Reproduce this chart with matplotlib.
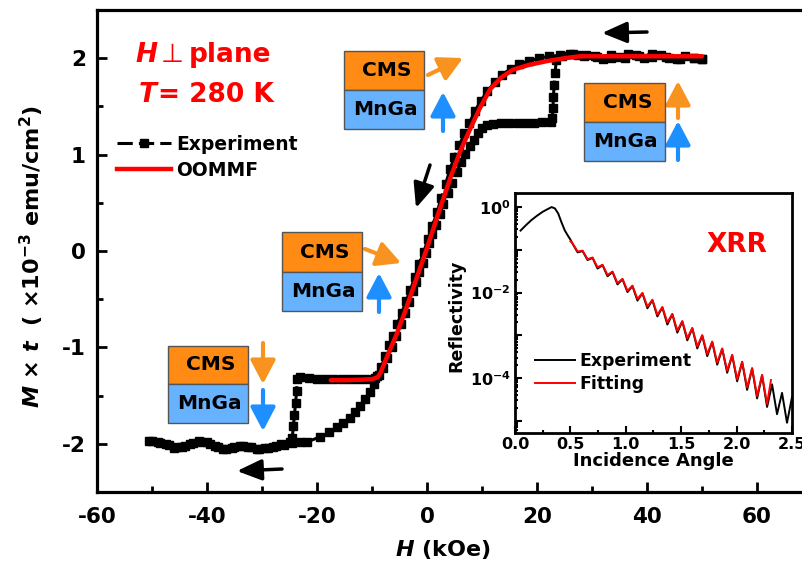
import matplotlib
matplotlib.use('Agg')
import matplotlib.pyplot as plt
from matplotlib.patches import Rectangle
from matplotlib.lines import Line2D
from matplotlib.ticker import MultipleLocator, FixedLocator, LogLocator, NullFormatter
import numpy as np

plt.rcParams['font.family'] = ['DejaVu Sans']
plt.rcParams['font.weight'] = 'bold'
plt.rcParams['axes.unicode_minus'] = False
plt.rcParams['mathtext.fontset'] = 'custom'
plt.rcParams['mathtext.rm'] = 'DejaVu Sans:bold'
plt.rcParams['mathtext.it'] = 'DejaVu Sans:italic:bold'
plt.rcParams['mathtext.bf'] = 'DejaVu Sans:bold'

# ---------------- data: hysteresis (experiment) ----------------
H_desc = [50, 48.5, 47, 45.5, 44, 42.5, 41, 39.5, 38, 36.5, 35, 33.5, 32, 30.5, 29, 27.5, 26, 24.5, 23.5,
          23.3, 23.1, 23.0, 22.9, 22.8,
          22.5, 21, 19.5, 18, 16.5, 15, 13.5, 12, 11, 10, 9.2, 8.5,
          7.8, 7.0, 6.2, 5.4, 4.6, 3.8, 3.0, 2.3, 1.6, 1.0, 0.4, -0.2, -0.8, -1.4, -2.0, -2.6, -3.3, -4.0,
          -4.8, -5.6, -6.4, -7.2, -8.0, -8.8,
          -9.5, -11, -12.5, -14, -15.5, -17, -18.5, -20, -21.5, -23, -23.6,
          -23.7, -23.9, -24.1, -24.3, -24.5,
          -25, -26.5, -28, -29.5, -31, -32.5, -34, -35.5, -37, -38.5, -40, -41.5, -43, -44.5, -46, -47.5, -49, -50.5]
M_desc = [1.99, 2.00, 2.02, 1.99, 2.00, 2.03, 2.01, 2.00, 2.03, 2.04, 2.01, 2.00, 1.99, 2.02, 2.03, 2.03, 2.04, 2.02, 1.98,
          1.85, 1.72, 1.60, 1.48, 1.38,
          1.34, 1.34, 1.33, 1.33, 1.33, 1.33, 1.33, 1.32, 1.31, 1.28, 1.22, 1.15,
          1.09, 1.01, 0.92, 0.82, 0.71, 0.60, 0.49, 0.38, 0.27, 0.18, 0.08, -0.02, -0.12, -0.22, -0.32, -0.42, -0.53, -0.64,
          -0.76, -0.88, -1.00, -1.11, -1.21, -1.29,
          -1.32, -1.33, -1.33, -1.33, -1.33, -1.33, -1.33, -1.33, -1.32, -1.31, -1.33,
          -1.45, -1.58, -1.70, -1.82, -1.94,
          -1.98, -2.00, -2.03, -2.04, -2.05, -2.03, -2.02, -2.04, -2.05, -2.02, -1.98, -1.97, -2.00, -2.03, -2.04, -2.00, -1.98, -1.97]
H_asc = [-50, -48.5, -47, -45.5, -44, -42.5, -41, -39.5, -38, -36.5, -35, -33.5, -32, -30.5, -29, -27.5, -26, -24.5, -23,
         -21.8, -19.5, -17.8, -16.4, -15.2, -14, -13, -12.1, -11.2, -10.4, -9.7, -9.0, -8.3, -7.6, -6.9, -6.2, -5.4,
         -4.6, -3.8, -3.0, -2.2, -1.4, -0.6, 0.2, 1.0, 1.8, 2.6, 3.4, 4.2, 5.0, 5.9, 6.8, 7.7, 8.7, 9.8, 11, 12.3,
         13.7, 15.2, 16.8, 18.5, 20.3, 22.2, 24.2, 26.5, 28.5, 31, 33.5, 36, 38.5, 41, 43.5, 46, 48.5, 50]
M_asc = [-1.97, -1.99, -2.01, -2.03, -2.02, -1.99, -1.98, -2.00, -2.03, -2.05, -2.03, -2.02, -2.03, -2.05, -2.04, -2.02, -2.01, -1.99, -1.98,
         -1.98, -1.93, -1.88, -1.83, -1.78, -1.73, -1.67, -1.61, -1.54, -1.46, -1.38, -1.30, -1.20, -1.09, -0.98, -0.88, -0.76,
         -0.64, -0.52, -0.40, -0.27, -0.14, -0.01, 0.12, 0.26, 0.40, 0.55, 0.70, 0.85, 0.98, 1.10, 1.22, 1.33, 1.45, 1.56, 1.66, 1.75,
         1.83, 1.89, 1.94, 1.97, 2.00, 2.02, 2.03, 2.04, 2.02, 2.01, 2.03, 2.00, 2.02, 2.04, 2.01, 1.99, 2.00, 1.99]

# ---------------- data: OOMMF simulation ----------------
H_sim = [-17.5, -15, -12, -10, -9, -8.5, -7, -5.5, -4, -2, 0, 2, 4.2, 6, 7.8, 9.5, 11.5, 13.5, 15.6, 18.5, 21.8, 25, 27.8, 35, 42, 50]
M_sim = [-1.34, -1.34, -1.335, -1.33, -1.31, -1.27, -1.06, -0.86, -0.63, -0.30, 0.03, 0.38, 0.75, 1.03, 1.26, 1.47, 1.68, 1.80,
         1.88, 1.93, 1.97, 2.00, 2.02, 2.02, 2.02, 2.02]

# ---------------- data: XRR inset ----------------
ang_exp = [0.05, 0.10, 0.15, 0.20, 0.25, 0.30, 0.33, 0.36, 0.39, 0.42, 0.45, 0.48, 0.50, 0.52,
           0.565, 0.61, 0.655, 0.70, 0.745, 0.79, 0.835, 0.88, 0.925, 0.97, 1.015, 1.06, 1.105, 1.15, 1.195,
           1.24, 1.285, 1.33, 1.375, 1.42, 1.465, 1.51, 1.555, 1.60, 1.645, 1.69, 1.735, 1.78, 1.825, 1.87,
           1.915, 1.96, 2.005, 2.05, 2.095, 2.14, 2.185, 2.23, 2.275, 2.32, 2.365, 2.41, 2.455, 2.50]
logR_exp = [-0.55, -0.42, -0.30, -0.20, -0.11, -0.04, 0.0, -0.03, -0.15, -0.36, -0.55, -0.68, -0.76, -0.86,
            -1.06, -1.03, -1.24, -1.19, -1.44, -1.36, -1.62, -1.52, -1.81, -1.69, -1.99, -1.85, -2.19, -2.02, -2.37,
            -2.18, -2.56, -2.35, -2.75, -2.51, -2.94, -2.68, -3.12, -2.84, -3.31, -3.01, -3.49, -3.16, -3.69, -3.32,
            -3.88, -3.47, -4.08, -3.63, -4.28, -3.78, -4.48, -3.94, -4.68, -4.15, -4.85, -4.35, -5.05, -4.45]
ang_fit = [0.50, 0.52,
           0.565, 0.61, 0.655, 0.70, 0.745, 0.79, 0.835, 0.88, 0.925, 0.97, 1.015, 1.06, 1.105, 1.15, 1.195,
           1.24, 1.285, 1.33, 1.375, 1.42, 1.465, 1.51, 1.555, 1.60, 1.645, 1.69, 1.735, 1.78, 1.825, 1.87,
           1.915, 1.96, 2.005, 2.05, 2.095, 2.14, 2.185, 2.23, 2.275, 2.31]
logR_fit = [-0.80, -0.85,
            -1.04, -1.02, -1.22, -1.18, -1.41, -1.35, -1.59, -1.51, -1.78, -1.68, -1.96, -1.84, -2.15, -2.01, -2.33,
            -2.17, -2.52, -2.34, -2.70, -2.50, -2.89, -2.67, -3.07, -2.83, -3.26, -3.00, -3.44, -3.15, -3.64, -3.31,
            -3.83, -3.46, -4.03, -3.62, -4.22, -3.77, -4.42, -3.93, -4.61, -4.05]

R_exp = 10.0 ** np.array(logR_exp)
R_fit = 10.0 ** np.array(logR_fit)

W, Hh = 803, 566
fig = plt.figure(figsize=(W / 100, Hh / 100), dpi=100)

def fx(px):
    return px / W

def fy(py):
    return 1 - py / Hh

EXP_LS = (0, (5, 2))

ax = fig.add_axes([fx(97), fy(492), 715 / W, 482 / Hh])
H_exp = H_desc + H_asc
M_exp = M_desc + M_asc
ax.plot(H_exp, M_exp, color='black', lw=2.2, ls=EXP_LS, marker='s', ms=5.8, mec='black', mfc='black', zorder=3)
ax.plot(H_sim, M_sim, color='#FF0000', lw=3.2, zorder=4, solid_capstyle='round')

ax.set_xlim(-60, 70)
ax.set_ylim(-2.5, 2.5)
ax.xaxis.set_major_locator(FixedLocator([-60, -40, -20, 0, 20, 40, 60]))
ax.xaxis.set_minor_locator(MultipleLocator(10))
ax.yaxis.set_major_locator(FixedLocator([-2, -1, 0, 1, 2]))
ax.yaxis.set_minor_locator(MultipleLocator(0.5))
ax.tick_params(which='both', direction='in', top=False, right=False, width=2)
ax.tick_params(which='major', length=7.5, labelsize=15.5)
ax.tick_params(axis='y', which='major', pad=8)
ax.tick_params(axis='x', which='major', pad=11)
ax.tick_params(which='minor', length=4)
for lab in ax.get_xticklabels() + ax.get_yticklabels():
    lab.set_fontweight('bold')
for s in ax.spines.values():
    s.set_linewidth(2.3)

ax.set_xlabel(r'$\mathit{H}$ (kOe)', fontsize=16, fontweight='bold')
ax.xaxis.set_label_coords((443 - 97) / 715, (492 - 538) / 482)
ax.set_ylabel(r'$\mathit{M}$ × $\mathit{t}$  ( ×10$^{\mathregular{-3}}$ emu/cm$^{\mathregular{2}}$)', fontsize=16, fontweight='bold')
ax.yaxis.set_label_coords((46 - 97) / 715, (492 - 257) / 482)

# legend main
hd = [Line2D([], [], color='black', lw=2.2, ls=EXP_LS, marker='s', ms=5.8),
      Line2D([], [], color='#FF0000', lw=3.2)]
leg = ax.legend(hd, ['Experiment', 'OOMMF'], loc='upper left', bbox_to_anchor=(fx(117), fy(135)),
                bbox_transform=fig.transFigure, frameon=False, fontsize=13.5, handlelength=2.9,
                handletextpad=0.27, labelspacing=0.35, borderpad=0, borderaxespad=0)
for t in leg.get_texts():
    t.set_fontweight('bold')

# red condition annotations
RED = '#FF0000'
fig.text(fx(135), fy(62), r'$\mathit{H}$', color=RED, fontsize=19, va='baseline', ha='left')
fig.text(fx(172), fy(62), '\u22a5', color=RED, fontsize=19, fontweight='normal', va='baseline', ha='center')
fig.text(fx(189), fy(62), 'plane', color=RED, fontsize=19, fontweight='bold', va='baseline', ha='left')
fig.text(fx(138), fy(102), r'$\mathit{T}$', color=RED, fontsize=19, va='baseline', ha='left')
fig.text(fx(158), fy(102), '= 280 K', color=RED, fontsize=19, fontweight='bold', va='baseline', ha='left')

ORANGE = '#FF8A14'
BLUE = '#66B2FF'

def stack(x0, y0, y1, y2, w=80):
    fig.add_artist(Rectangle((fx(x0), fy(y1)), w / W, (y1 - y0) / Hh, transform=fig.transFigure,
                             facecolor=ORANGE, edgecolor='#555555', lw=1.0))
    fig.add_artist(Rectangle((fx(x0), fy(y2)), w / W, (y2 - y1) / Hh, transform=fig.transFigure,
                             facecolor=BLUE, edgecolor='#555555', lw=1.0))
    fig.text(fx(x0 + w / 2 + 3), fy((y0 + y1) / 2), 'CMS', fontsize=14.5, fontweight='bold', ha='center', va='center')
    fig.text(fx(x0 + w / 2 + 1), fy((y1 + y2) / 2), 'MnGa', fontsize=14.5, fontweight='bold', ha='center', va='center')

stack(344, 51, 90, 129)
stack(584, 83, 122, 161, w=81)
stack(282, 232, 272, 311)
stack(168, 346, 384, 423)

def arrow(x0, y0, x1, y1, color, lw=3.0, ms=18, hl=0.8, hw=0.42):
    ax.annotate('', xy=(x1, Hh - y1), xytext=(x0, Hh - y0), xycoords='figure pixels', textcoords='figure pixels',
                arrowprops=dict(arrowstyle='-|>,head_length=%g,head_width=%g' % (hl, hw), color=color, lw=lw,
                                mutation_scale=ms, shrinkA=0, shrinkB=0), annotation_clip=False)

ARO = '#F7931E'
ARB = '#1E8FFF'
arrow(428, 75, 463, 58, ARO)
arrow(443, 131, 443, 92, ARB)
arrow(678, 118, 678, 81, ARO)
arrow(678, 160, 678, 121, ARB)
arrow(365, 249, 401, 263, ARO)
arrow(379, 312, 379, 273, ARB)
arrow(263, 343, 263, 384, ARO)
arrow(263, 390, 263, 431, ARB)
arrow(647, 32, 602, 33, 'black', lw=2.5, ms=20, hl=0.75, hw=0.32)
arrow(282, 469, 237, 471, 'black', lw=2.5, ms=20, hl=0.75, hw=0.32)
arrow(430, 165, 416, 208, 'black', lw=2.5, ms=20, hl=0.75, hw=0.32)

# ---------------- inset ----------------
ax2 = fig.add_axes([fx(515), fy(433), 277 / W, 240 / Hh])
ax2.plot(ang_exp, R_exp, color='black', lw=1.4, label='Experiment')
ax2.plot(ang_fit, R_fit, color='#FF0000', lw=1.4, label='Fitting')
ax2.set_yscale('log')
ax2.set_xlim(0, 2.5)
ax2.set_ylim(10 ** -5.29, 10 ** 0.33)
ax2.xaxis.set_major_locator(FixedLocator([0.0, 0.5, 1.0, 1.5, 2.0, 2.5]))
ax2.xaxis.set_minor_locator(MultipleLocator(0.25))
ax2.set_xticklabels(['0.0', '0.5', '1.0', '1.5', '2.0', '2.5'])
ax2.yaxis.set_major_locator(FixedLocator([1e-5, 1e-4, 1e-3, 1e-2, 1e-1, 1e0]))
ax2.set_yticklabels(['', r'$\mathregular{10^{-4}}$', '', r'$\mathregular{10^{-2}}$', '', r'$\mathregular{10^{0}}$'])
ax2.yaxis.set_minor_locator(LogLocator(base=10, subs=np.arange(2, 10), numticks=20))
ax2.yaxis.set_minor_formatter(NullFormatter())
ax2.tick_params(which='both', direction='in', top=False, right=False, width=1.5)
ax2.tick_params(which='major', length=5, labelsize=11.5, pad=3)
ax2.tick_params(which='minor', length=2.5)
for lab in ax2.get_xticklabels() + ax2.get_yticklabels():
    lab.set_fontweight('bold')
for s in ax2.spines.values():
    s.set_linewidth(2.0)
ax2.set_xlabel('Incidence Angle', fontsize=13, fontweight='bold')
ax2.xaxis.set_label_coords(0.498, (433 - 452) / 240)
ax2.set_ylabel('Reflectivity', fontsize=12.5, fontweight='bold')
ax2.yaxis.set_label_coords((465 - 515) / 277, (433 - 316) / 240)
ax2.text(0.80, 0.785, 'XRR', transform=ax2.transAxes, color='#FF0000', fontsize=19, fontweight='bold', ha='center', va='center')
leg2 = ax2.legend(loc='upper left', bbox_to_anchor=(fx(535), fy(352)), bbox_transform=fig.transFigure,
                  frameon=False, fontsize=12.4, handlelength=2.3, handletextpad=0.3, labelspacing=0.3,
                  borderpad=0, borderaxespad=0)
for t in leg2.get_texts():
    t.set_fontweight('bold')

fig.savefig('out.png', dpi=100)
